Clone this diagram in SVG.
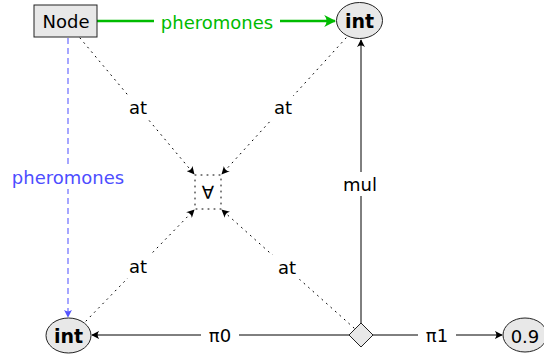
<svg xmlns="http://www.w3.org/2000/svg" width="544" height="356" viewBox="0 0 544 356">
<style>
text{font-family:"DejaVu Sans","Liberation Sans",sans-serif;font-size:18px;text-anchor:middle;dominant-baseline:central;fill:#000}
.b{font-weight:bold;font-size:19px}
.nd{fill:#e8e8e8;stroke:#222;stroke-width:1}
.dot{fill:none;stroke:#000;stroke-width:1;stroke-dasharray:1 5;stroke-linecap:round}
.sol{fill:none;stroke:#000;stroke-width:1}
.lbl{fill:#fff;stroke:none}
</style>
<defs>
<marker id="ak" viewBox="0 0 10 10" refX="9" refY="5" markerWidth="8" markerHeight="8" markerUnits="userSpaceOnUse" orient="auto">
<path d="M0,0 Q4,5 0,10 L10,5 Z" fill="#000"/>
</marker>
<marker id="ag" viewBox="0 0 10 10" refX="9" refY="5" markerWidth="12" markerHeight="12" markerUnits="userSpaceOnUse" orient="auto">
<path d="M0,0 Q4,5 0,10 L10,5 Z" fill="#00bb00"/>
</marker>
<marker id="ab" viewBox="0 0 10 10" refX="9" refY="5" markerWidth="8" markerHeight="8" markerUnits="userSpaceOnUse" orient="auto">
<path d="M0,0 Q4,5 0,10 L10,5 Z" fill="#5555ff"/>
</marker>
</defs>
<g id="connectors">
<line x1="97" y1="21" x2="335" y2="21" stroke="#00bb00" stroke-width="2.5" marker-end="url(#ag)"/>
<rect class="lbl" x="154" y="10" width="126" height="22"/>
<text x="217" y="22" style="fill:#00bb00">pheromones</text>
<line x1="68" y1="38" x2="68" y2="317" stroke="#6b6bff" stroke-width="1.2" stroke-dasharray="6 4" marker-end="url(#ab)"/>
<rect class="lbl" x="8" y="165" width="120" height="24"/>
<text x="68" y="177" style="fill:#4d4dff">pheromones</text>
<line class="dot" x1="80" y1="38" x2="194" y2="174" marker-end="url(#ak)"/>
<line class="dot" x1="346" y1="38" x2="222" y2="174" marker-end="url(#ak)"/>
<line class="dot" x1="86" y1="321" x2="194" y2="210" marker-end="url(#ak)"/>
<line class="dot" x1="354" y1="328" x2="222" y2="210" marker-end="url(#ak)"/>
<rect class="lbl" x="123" y="96" width="30" height="24"/>
<text x="138" y="107">at</text>
<rect class="lbl" x="268" y="96" width="30" height="24"/>
<text x="283" y="107">at</text>
<rect class="lbl" x="123" y="254" width="30" height="24"/>
<text x="138" y="266">at</text>
<rect class="lbl" x="272" y="255" width="30" height="24"/>
<text x="287" y="267">at</text>
<line class="sol" x1="361" y1="323" x2="361" y2="40" marker-end="url(#ak)"/>
<rect class="lbl" x="338" y="172" width="46" height="24"/>
<text x="360" y="184">mul</text>
<line class="sol" x1="349" y1="335" x2="92" y2="335" marker-end="url(#ak)"/>
<rect class="lbl" x="201" y="323" width="38" height="24"/>
<text x="220" y="335">π0</text>
<line class="sol" x1="373" y1="335" x2="502" y2="335" marker-end="url(#ak)"/>
<rect class="lbl" x="418" y="323" width="38" height="24"/>
<text x="437" y="335">π1</text>
</g>
<g id="node">
<rect class="nd" x="34" y="5" width="63" height="32"/>
<text x="66" y="21">Node</text>
</g>
<g id="int-top">
<ellipse class="nd" cx="359.5" cy="20.5" rx="23" ry="18"/>
<text class="b" x="359.5" y="21">int</text>
</g>
<g id="forall">
<rect x="195" y="175" width="26" height="34" fill="none" stroke="#000" stroke-width="1" stroke-dasharray="1 5" stroke-linecap="round"/>
<text x="208" y="192">∀</text>
</g>
<g id="int-bottom">
<ellipse class="nd" cx="68.5" cy="335.5" rx="22.5" ry="17.5"/>
<text class="b" x="68.5" y="336">int</text>
</g>
<g id="diamond">
<polygon class="nd" points="361,323 373,335 361,347 349,335"/>
</g>
<g id="val">
<ellipse class="nd" cx="525" cy="335" rx="22" ry="17"/>
<text x="525" y="336">0.9</text>
</g>
</svg>
